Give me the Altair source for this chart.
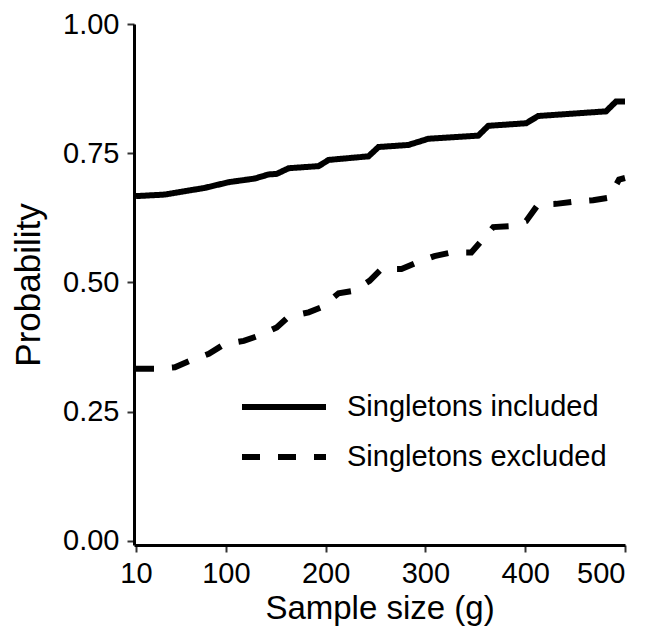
import altair as alt
import pandas as pd

# Singletons included (solid)
inc_x = [10, 39, 79, 103, 129, 143, 151, 163, 193, 203, 243, 253, 283, 303, 353, 363, 401, 413, 481, 491, 500]
inc_y = [0.667, 0.670, 0.683, 0.694, 0.701, 0.709, 0.710, 0.721, 0.725, 0.737, 0.744, 0.762, 0.766, 0.778,
         0.784, 0.803, 0.808, 0.822, 0.831, 0.850, 0.850]

# Singletons excluded (dashed)
exc_x = [10, 31, 49, 66, 83, 98, 118, 133, 151, 163, 183, 196, 213, 229, 244, 256, 276, 291, 309, 326,
         346, 356, 368, 384, 401, 413, 431, 448, 468, 484, 494, 500]
exc_y = [0.333, 0.333, 0.336, 0.350, 0.362, 0.380, 0.387, 0.397, 0.413, 0.434, 0.442, 0.452, 0.479, 0.484,
         0.503, 0.526, 0.526, 0.538, 0.551, 0.558, 0.558, 0.580, 0.607, 0.609, 0.619, 0.651, 0.652, 0.656,
         0.659, 0.664, 0.699, 0.702]

series = ["Singletons included", "Singletons excluded"]
x_ticks = [10, 100, 200, 300, 400, 500]
y_ticks = [0.0, 0.25, 0.5, 0.75, 1.0]

df = pd.concat([
    pd.DataFrame({"x": inc_x, "y": inc_y, "series": series[0]}),
    pd.DataFrame({"x": exc_x, "y": exc_y, "series": series[1]}),
])

FONT = "Liberation Sans"

chart = alt.Chart(df).mark_line(strokeWidth=6, strokeCap="butt", color="black").encode(
    x=alt.X("x:Q", scale=alt.Scale(domain=[8, 500], nice=False, zero=False),
            axis=alt.Axis(title="Sample size (g)", values=x_ticks, format="d",
                          labelPadding=7, titlePadding=4, titleFontSize=33)),
    y=alt.Y("y:Q", scale=alt.Scale(domain=[-0.008, 1.0], nice=False),
            axis=alt.Axis(title="Probability", values=y_ticks, format=".2f",
                          labelPadding=8, titlePadding=16, titleFontSize=35)),
    strokeDash=alt.StrokeDash("series:N", sort=series,
        scale=alt.Scale(domain=series, range=[[1, 0], [18, 18]]),
        legend=alt.Legend(title=None, orient="none", legendX=105, legendY=366,
                          symbolType="stroke", symbolSize=7056, symbolStrokeWidth=6,
                          symbolStrokeColor="black", labelFontSize=29, labelFont=FONT,
                          labelColor="black", labelOffset=18, clipHeight=34, rowPadding=16,
                          labelLimit=0)),
    detail="series:N",
).properties(
    width=491, height=521,
    autosize=alt.AutoSizeParams(type="none"),
    padding={"left": 126, "top": 16, "right": 10, "bottom": 83},
).configure_view(stroke=None).configure_axis(
    grid=False, domainColor="black", domainWidth=3, tickColor="#333", tickWidth=2, tickSize=7,
    labelFont=FONT, labelFontSize=29, labelColor="black",
    titleFont=FONT, titleColor="black", titleFontWeight="normal",
)

chart.save("out.html", embed_options={"renderer": "svg", "actions": False})
